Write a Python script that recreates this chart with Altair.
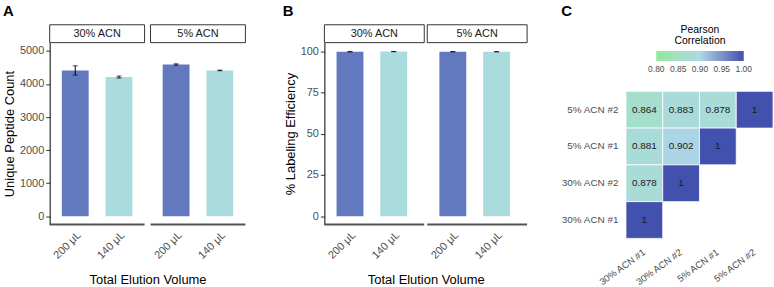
import altair as alt
import pandas as pd

# ---------------- data ----------------
acn_groups = ["30% ACN", "5% ACN"]
volumes = ["200 μL", "140 μL"]
bar_acn = ["30% ACN", "30% ACN", "5% ACN", "5% ACN"]
bar_vol = ["200 μL", "140 μL", "200 μL", "140 μL"]
peptide_mean = [4410, 4210, 4590, 4410]
peptide_sd = [140, 30, 20, 10]
efficiency_mean = [99.7, 99.8, 99.7, 99.7]
efficiency_sd = [0.2, 0.1, 0.1, 0.1]

samples = ["30% ACN #1", "30% ACN #2", "5% ACN #1", "5% ACN #2"]
corr_col = ["30% ACN #1", "30% ACN #2", "5% ACN #1", "5% ACN #2",
            "30% ACN #1", "30% ACN #2", "5% ACN #1",
            "30% ACN #1", "30% ACN #2",
            "30% ACN #1"]
corr_row = ["5% ACN #2"] * 4 + ["5% ACN #1"] * 3 + ["30% ACN #2"] * 2 + ["30% ACN #1"]
corr_val = [0.864, 0.883, 0.878, 1.0, 0.881, 0.902, 1.0, 0.878, 1.0, 1.0]
legend_values = [0.80, 0.85, 0.90, 0.95, 1.00]

FONT = "Liberation Sans"
BAR_COLORS = ["#6279BF", "#AADCDD"]
H = 183


def bar_panel(means, sds, ytitle, ydomain, yticks, letter, letter_x, width,
              x_inner, off_inner, off_outer, off_align, ytitle_pad):
    df = pd.DataFrame({"acn": bar_acn, "vol": bar_vol, "value": means, "sd": sds})
    df["lo"] = df["value"] - df["sd"]
    df["hi"] = df["value"] + df["sd"]
    strips = pd.DataFrame({"acn": acn_groups})
    tagdf = pd.DataFrame({"tag": [letter]})

    xscale = alt.Scale(domain=acn_groups, paddingInner=x_inner, paddingOuter=0)
    oscale = alt.Scale(domain=volumes, paddingInner=off_inner,
                       paddingOuter=off_outer, align=off_align)
    yscale = alt.Scale(domain=ydomain, nice=False, zero=False)

    x_axis = alt.Axis(title="Total Elution Volume", labels=False, ticks=False,
                      domain=False, titlePadding=49, titleFontSize=13,
                      titleColor="black", titleFontWeight="normal", titleFont=FONT)
    y_axis = alt.Axis(values=yticks, format="d", title=ytitle, grid=False,
                      domainColor="black", domainWidth=1, tickColor="#333333",
                      tickSize=4, tickWidth=1, labelColor="#4D4D4D", labelFontSize=11,
                      labelFont=FONT, labelPadding=2, titleFontSize=13,
                      titleColor="black", titleFontWeight="normal", titleFont=FONT,
                      titlePadding=ytitle_pad)

    X = alt.X("acn:N", scale=xscale, axis=x_axis)
    XO = alt.XOffset("vol:N", scale=oscale)

    base = alt.Chart(df)
    bars = base.mark_bar().encode(
        x=X, xOffset=XO,
        y=alt.Y("value:Q", scale=yscale, axis=y_axis),
        y2=alt.Y2(datum=0),
        color=alt.Color("vol:N", scale=alt.Scale(domain=volumes, range=BAR_COLORS),
                        legend=None),
    )
    err = base.mark_rule(color="black", strokeWidth=1).encode(
        x=X, xOffset=XO,
        y=alt.Y("lo:Q", scale=yscale, axis=y_axis), y2="hi:Q")
    cap_hi = base.mark_tick(color="black", size=5, thickness=1).encode(
        x=X, xOffset=XO, y=alt.Y("hi:Q", scale=yscale, axis=y_axis))
    cap_lo = base.mark_tick(color="black", size=5, thickness=1).encode(
        x=X, xOffset=XO, y=alt.Y("lo:Q", scale=yscale, axis=y_axis))
    strip_rect = alt.Chart(strips).mark_rect(
        fill="white", stroke="#333333", strokeWidth=1).encode(
        x=X, y=alt.value(-18), y2=alt.value(0))
    strip_text = alt.Chart(strips).mark_text(
        fontSize=11, color="#1A1A1A", font=FONT).encode(
        x=X, y=alt.value(-8.5), text="acn:N")
    xline = alt.Chart(strips).mark_rect(fill="#555555").encode(
        x=X, y=alt.value(H - 1), y2=alt.value(H + 1))
    xlabels = base.mark_text(angle=315, align="right", baseline="top", fontSize=11,
                             color="#4D4D4D", font=FONT).encode(
        x=X, xOffset=XO, y=alt.value(H + 5), text="vol:N")
    tag = alt.Chart(tagdf).mark_text(align="left", baseline="top", fontSize=15,
                                     fontWeight="bold", font=FONT, color="black").encode(
        x=alt.value(letter_x), y=alt.value(-39), text="tag:N")

    return alt.layer(bars, err, cap_hi, cap_lo, strip_rect, strip_text, xline,
                     xlabels, tag).properties(width=width, height=H)


panel_a = bar_panel(peptide_mean, peptide_sd, "Unique Peptide Count", [-250, 5250],
                    [0, 1000, 2000, 3000, 4000, 5000], "A", -47, 197,
                    6 / 101.5, 0.386, 0.278, 0.5, 3)
panel_b = bar_panel(efficiency_mean, efficiency_sd, "% Labeling Efficiency", [-5, 105.2],
                    [0, 25, 50, 75, 100], "B", -42, 204,
                    3 / 103.5, 0.395, 0.352, 0.41, 3)

# ---------------- heatmap ----------------
df_corr = pd.DataFrame({"col": corr_col, "row": corr_row, "r": corr_val})
df_corr["label"] = [f"{v:g}" for v in corr_val]

CX = alt.X("col:N", scale=alt.Scale(domain=samples, paddingInner=0, paddingOuter=0),
           axis=alt.Axis(title=None, labelAngle=-36, domain=False, ticks=False,
                         labelPadding=8.5, labelOffset=-3, labelFontSize=9.5,
                         labelColor="#4D4D4D", labelFont=FONT))
CY = alt.Y("row:N", scale=alt.Scale(domain=samples[::-1], paddingInner=0,
                                    paddingOuter=0.662, align=1),
           axis=alt.Axis(title=None, domain=False, ticks=False, labelPadding=8,
                         labelFontSize=10, labelColor="#4D4D4D", labelFont=FONT))

cells = alt.Chart(df_corr).mark_rect(stroke="white", strokeWidth=0.8).encode(
    x=CX, y=CY,
    color=alt.Color("r:Q",
                    scale=alt.Scale(domain=[0.7999, 0.9, 1.0001],
                                    range=["#93E89C", "#ADD8E6", "#4251AD"],
                                    interpolate="lab"),
                    legend=alt.Legend(orient="none", legendX=30.5, legendY=-18,
                                      direction="horizontal", gradientLength=88,
                                      gradientThickness=10, gradientStrokeWidth=0,
                                      title=["Pearson", "Correlation"],
                                      titleFontSize=10.5, titleLineHeight=11,
                                      titleFontWeight="normal", titleColor="black",
                                      titleFont=FONT, titleAnchor="middle",
                                      titleAlign="center", titlePadding=5,
                                      values=legend_values, format=".2f",
                                      labelFontSize=8.5, labelColor="#4D4D4D",
                                      labelFont=FONT, labelAlign="center",
                                      labelOverlap=False, labelOffset=4, padding=0)),
)
cell_text = alt.Chart(df_corr).mark_text(fontSize=10, color="#1A1A1A", font=FONT).encode(
    x=CX, y=CY, text="label:N")
tag_c = alt.Chart(pd.DataFrame({"tag": ["C"]})).mark_text(
    align="left", baseline="top", fontSize=15, fontWeight="bold", font=FONT,
    color="black").encode(x=alt.value(-65), y=alt.value(-39), text="tag:N")

panel_c = alt.layer(cells, cell_text, tag_c).properties(width=148, height=197)

chart = alt.hconcat(
    alt.hconcat(panel_a, panel_b, spacing=35.5),
    panel_c,
    spacing=31,
).properties(
    padding={"left": 2, "top": 2, "right": 0, "bottom": 0},
    background="white",
).configure_view(stroke="transparent")

chart.save("out.html", embed_options={"renderer": "svg", "actions": False})
